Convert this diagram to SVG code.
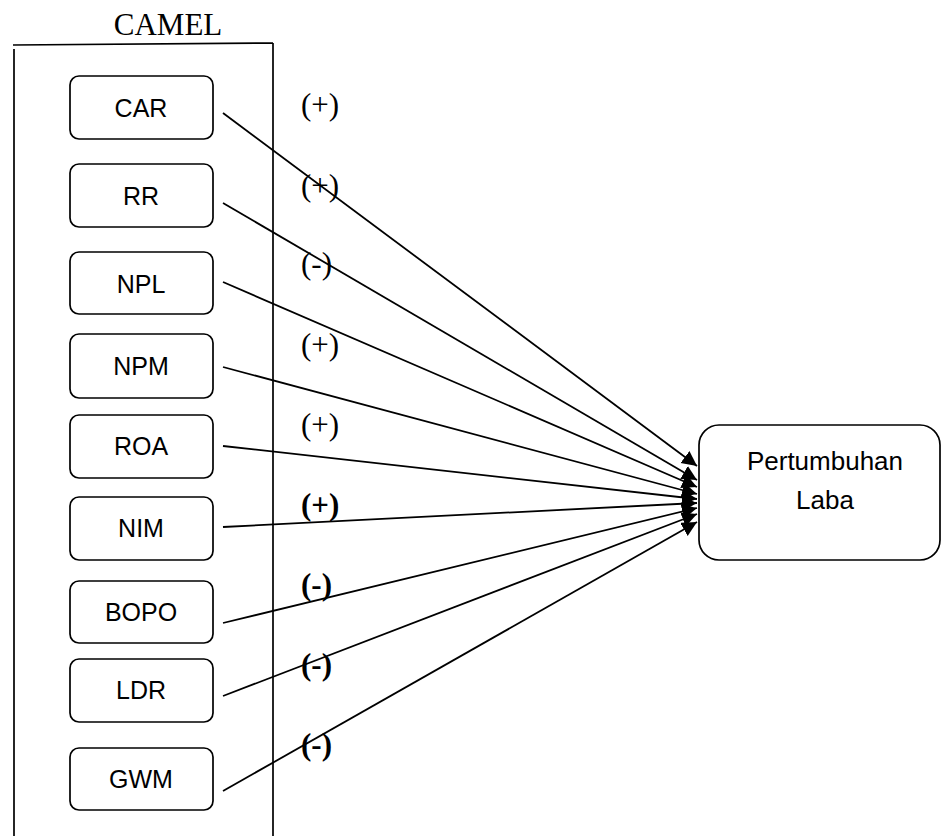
<svg xmlns="http://www.w3.org/2000/svg" width="942" height="836" viewBox="0 0 942 836">
<style>
.box{fill:#fff;stroke:#000;stroke-width:1.7}
.lbl{font-family:"Liberation Sans",Arial,sans-serif;font-size:25px;fill:#000;text-anchor:middle}
.big{font-size:26px}
.sign{font-family:"Liberation Serif","Times New Roman",serif;font-size:31px;fill:#000}
.bold{font-weight:bold}
.frame{fill:none;stroke:#000;stroke-width:1.7}
.conn line{stroke:#000;stroke-width:1.8;marker-end:url(#arr)}
</style>
<defs>
<marker id="arr" markerUnits="userSpaceOnUse" markerWidth="16" markerHeight="16" refX="15" refY="7.5" orient="auto">
<path d="M0,0 L15,7.5 L0,15 z" fill="#000"/>
</marker>
</defs>
<rect width="942" height="836" fill="#fff"/>
<g id="camel-frame">
<text x="168" y="35" class="sign" text-anchor="middle" font-size="30">CAMEL</text>
<path class="frame" d="M13,45 L273,43 M14,49 L14,836 M273,43 L273,836"/>
</g>
<g id="car"><rect class="box" x="70" y="76" width="143" height="63" rx="9"/><text class="lbl" x="141" y="117">CAR</text></g>
<g id="rr"><rect class="box" x="70" y="164" width="143" height="63" rx="9"/><text class="lbl" x="141" y="205">RR</text></g>
<g id="npl"><rect class="box" x="70" y="252" width="143" height="62" rx="9"/><text class="lbl" x="141" y="293">NPL</text></g>
<g id="npm"><rect class="box" x="70" y="334" width="143" height="64" rx="9"/><text class="lbl" x="141" y="375">NPM</text></g>
<g id="roa"><rect class="box" x="70" y="415" width="143" height="63" rx="9"/><text class="lbl" x="141" y="455">ROA</text></g>
<g id="nim"><rect class="box" x="70" y="497" width="143" height="63" rx="9"/><text class="lbl" x="141" y="537">NIM</text></g>
<g id="bopo"><rect class="box" x="70" y="581" width="143" height="62" rx="9"/><text class="lbl" x="141" y="621">BOPO</text></g>
<g id="ldr"><rect class="box" x="70" y="659" width="143" height="63" rx="9"/><text class="lbl" x="141" y="699">LDR</text></g>
<g id="gwm"><rect class="box" x="70" y="748" width="143" height="62" rx="9"/><text class="lbl" x="141" y="788">GWM</text></g>
<g id="pertumbuhan-laba"><rect class="box" x="699" y="425" width="241" height="135" rx="20"/><text class="lbl big" x="825" y="470">Pertumbuhan</text><text class="lbl big" x="825" y="509">Laba</text></g>
<g id="connectors" class="conn">
<line x1="223" y1="113" x2="697" y2="466"/>
<line x1="223" y1="203" x2="697" y2="480"/>
<line x1="223" y1="282" x2="697" y2="487"/>
<line x1="223" y1="367" x2="697" y2="494"/>
<line x1="223" y1="446" x2="697" y2="499"/>
<line x1="223" y1="527" x2="697" y2="503"/>
<line x1="223" y1="623" x2="697" y2="508"/>
<line x1="223" y1="696" x2="697" y2="514"/>
<line x1="223" y1="791" x2="697" y2="522"/>
</g>
<g id="signs">
<text class="sign" x="301" y="115">(+)</text>
<text class="sign" x="301" y="196">(+)</text>
<text class="sign" x="301" y="274">(-)</text>
<text class="sign" x="301" y="355">(+)</text>
<text class="sign" x="301" y="435">(+)</text>
<text class="sign bold" x="301" y="515">(+)</text>
<text class="sign bold" x="301" y="595">(-)</text>
<text class="sign bold" x="301" y="675">(-)</text>
<text class="sign bold" x="301" y="755">(-)</text>
</g>
</svg>
